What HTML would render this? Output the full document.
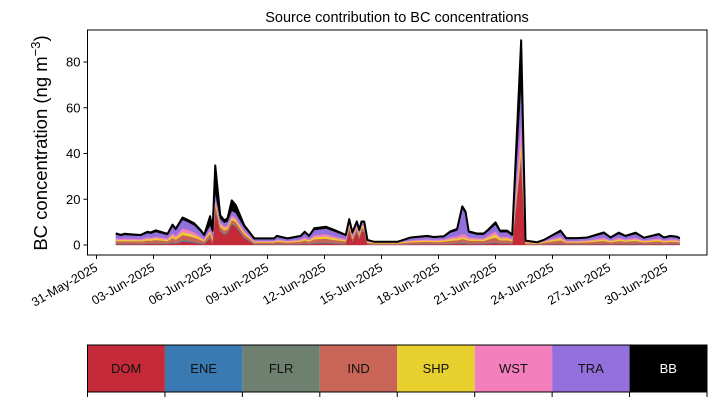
<!DOCTYPE html>
<html><head><meta charset="utf-8">
<style>
body{margin:0;background:#fff;}
svg{display:block;font-family:"Liberation Sans","DejaVu Sans",sans-serif;}
</style></head>
<body>
<svg id="chart" width="717" height="402" viewBox="0 0 717 402" xmlns="http://www.w3.org/2000/svg">
<text x="397" y="22" text-anchor="middle" font-size="14.5">Source contribution to BC concentrations</text>
<text transform="translate(47,143) rotate(-90)" text-anchor="middle" font-size="18.5">BC concentration (ng m<tspan dy="-7" font-size="13">−3</tspan><tspan dy="7">)</tspan></text>
<g id="plot"></g>
<g id="axes"></g>
<g id="legend"></g>
</svg>
<script>
const days = [1.02,1.28,1.46,2.33,2.68,2.86,3.12,3.74,4.0,4.17,4.53,4.79,5.14,5.49,5.67,5.98,6.11,6.25,6.51,6.72,6.89,7.12,7.33,7.77,8.3,9.35,9.49,10.05,10.75,10.96,11.19,11.46,12.07,12.51,13.12,13.3,13.47,13.7,13.83,13.95,14.09,14.26,14.62,15.84,16.54,17.4,17.75,18.28,18.63,18.98,19.25,19.42,19.59,20.04,20.38,20.65,21.0,21.23,21.62,21.88,22.35,22.58,23.19,23.54,24.42,24.72,25.3,25.83,26.7,27.05,27.49,27.84,28.37,28.81,29.6,29.86,30.21,30.56,30.7];
const DOM = [.4,.3,.4,.3,.5,.5,.5,.4,.8,.6,1.5,1.3,1.0,.5,.3,3.0,.5,15,6,4.5,5,9,8,3,.2,.2,.3,.2,.3,.5,.3,.6,.7,.5,.3,6.5,1.5,5.8,2.5,5.8,5.8,.2,.1,.1,.2,.3,.3,.3,.4,.5,.5,.5,.4,.4,.4,.6,.8,.5,.5,.4,37,.1,.1,.2,.4,.2,.2,.2,.4,.2,.4,.3,.4,.2,.4,.2,.3,.3,.2];
const ENE = [.1,.1,.1,.1,.1,.1,.1,.1,.2,.1,.3,.3,.2,.1,.1,.2,.1,.3,.2,.2,.2,.2,.2,.2,.1,.1,.1,.1,.1,.1,.1,.1,.2,.1,.1,.1,.1,.1,.1,.1,.1,.05,.05,.05,.1,.1,.1,.1,.1,.1,.3,.2,.1,.1,.1,.1,.2,.1,.1,.1,1,.05,.05,.05,.1,.1,.1,.1,.1,.1,.1,.1,.1,.1,.1,.1,.1,.1,.1];
const FLR = [.2,.2,.2,.2,.2,.2,.3,.2,.3,.3,.4,.4,.3,.3,.2,.3,.3,.5,.3,.3,.3,.3,.3,.3,.1,.1,.2,.1,.2,.2,.2,.3,.3,.3,.2,.2,.2,.2,.2,.2,.2,.1,.05,.05,.1,.2,.1,.2,.2,.2,.3,.3,.2,.2,.2,.3,.3,.2,.2,.2,1,.05,.05,.1,.2,.1,.1,.1,.2,.1,.2,.2,.2,.1,.2,.1,.2,.1,.1];
const IND = [1.1,1.0,1.0,1.0,1.2,1.1,1.3,1.0,1.8,1.4,2.2,2.0,1.8,1.3,1.0,1.5,1.3,2,1.5,1.4,1.4,1.5,1.5,1.2,.7,.7,.9,.7,.9,1.2,.9,1.5,1.6,1.3,1.0,1.3,1.0,1.2,1.1,1.2,1.2,.7,.5,.5,.8,.9,.8,.9,1.2,1.3,1.5,1.4,1.2,1.1,1.1,1.5,2,1.3,1.3,1.0,2,.6,.4,.7,1.4,.7,.7,.8,1.1,.8,1.1,.9,1.1,.8,1.0,.8,.9,.9,.7];
const SHP = [.6,.5,.6,.5,.7,.7,.8,.6,1.0,.8,1.3,1.2,1.0,.8,.5,1.0,.8,1.5,1,.9,.9,1,1,.8,.4,.4,.5,.4,.5,.7,.5,.9,1.0,.8,.5,.8,.6,.8,.7,.8,.8,.4,.3,.3,.5,.5,.5,.5,.7,.8,.8,.8,.7,.6,.6,.9,1.4,.8,.8,.6,4,.4,.3,.4,.8,.4,.4,.5,.7,.5,.7,.5,.7,.5,.6,.5,.5,.5,.4];
const WST = [.6,.5,.6,.5,.7,.6,.7,.6,1.2,.9,1.6,1.5,1.3,.7,.5,1.0,.7,1.5,1,.9,.9,1,1,.8,.4,.4,.5,.4,.5,.7,.5,.9,1.0,.8,.5,.7,.5,.7,.6,.7,.7,.3,.2,.2,.4,.5,.5,.5,.8,.9,1.5,1.4,.8,.6,.6,.9,1.3,.8,.8,.5,10,.3,.15,.3,.8,.4,.4,.4,.7,.4,.7,.5,.7,.4,.6,.4,.5,.5,.4];
const TRA = [1.6,1.4,1.5,1.4,1.8,1.7,2.0,1.5,2.8,2.3,3.7,3.4,3.0,2.0,1.4,1.6,2.0,2,1.5,1.5,1.5,2,2,1.5,.7,.7,1.1,.7,1.1,1.8,1.1,2.2,2.4,2.1,1.4,1.2,1.1,1.1,1.0,1.1,1.1,.3,.1,.1,.9,1.1,.9,1.0,2.0,2.5,11,9.2,2.0,1.5,1.5,2,2.9,1.9,1.9,1.2,15,.3,.1,.3,1.9,.8,.8,.9,1.7,.9,1.6,1.1,1.6,.8,1.4,.9,1.1,.9,.8];
const BB = [.5,.4,.5,.4,.6,.6,.7,.5,.8,.7,1.0,.9,.9,.7,.4,4.0,.7,12,1.5,1.1,1.3,4.5,3.5,.9,.3,.3,.4,.3,.4,.6,.4,.8,.8,.7,.4,.5,.5,.4,.4,.4,.4,.15,.1,.1,.3,.4,.3,.3,.6,.7,1.0,.9,.6,.5,.5,.7,1.0,.7,.7,.5,19.5,.1,.05,.15,.7,.3,.3,.3,.6,.3,.6,.4,.6,.3,.5,.3,.4,.3,.3];
const seriesNames = ["DOM","ENE","FLR","IND","SHP","WST","TRA","BB"];
const seriesData = [DOM,ENE,FLR,IND,SHP,WST,TRA,BB];
const seriesColors = ["#c52a38","#3a7ab3","#6e8070","#c96557","#e8d02e","#f380bd","#9370db","#000000"];
const yTicks = [0,20,40,60,80];
const xTickDays = [0,3,6,9,12,15,18,21,24,27,30];
const xTickLabels = ["31-May-2025","03-Jun-2025","06-Jun-2025","09-Jun-2025","12-Jun-2025","15-Jun-2025","18-Jun-2025","21-Jun-2025","24-Jun-2025","27-Jun-2025","30-Jun-2025"];

const NS="http://www.w3.org/2000/svg";
const L=87.5,R=707,T=30,B=255;
const xs=d=>96.5+d*19;
const ys=v=>245-v*2.2875;
function mk(tag,attrs,parent){const e=document.createElementNS(NS,tag);for(const k in attrs)e.setAttribute(k,attrs[k]);parent.appendChild(e);return e;}
const plot=document.getElementById('plot'),axes=document.getElementById('axes'),leg=document.getElementById('legend');

let base=days.map(()=>0);
seriesData.forEach((s,i)=>{
  const top=base.map((b,j)=>b+s[j]);
  let d="M"+days.map((t,j)=>xs(t).toFixed(2)+","+ys(top[j]).toFixed(2)).join("L");
  for(let j=days.length-1;j>=0;j--) d+="L"+xs(days[j]).toFixed(2)+","+ys(base[j]).toFixed(2);
  const p=mk('path',{d:d+"Z",fill:seriesColors[i],stroke:seriesColors[i],'stroke-width':0.4},plot);
  
  
  base=top;
});
const tl=mk('polyline',{points:days.map((t,j)=>xs(t).toFixed(2)+","+ys(base[j]).toFixed(2)).join(" "),fill:"none",stroke:"#000","stroke-width":2,"stroke-linejoin":"round"},plot);



const fr=mk('rect',{x:L,y:T,width:R-L,height:B-T,fill:"none",stroke:"#000","stroke-width":1},axes);


yTicks.forEach(v=>{
  const y=ys(v);
  mk('line',{x1:L-4,x2:L,y1:y,y2:y,stroke:"#000"},axes);
  const t=mk('text',{x:L-7,y:y+4.5,'text-anchor':'end','font-size':13},axes);
  t.textContent=v;
  
  
});
xTickDays.forEach((d,i)=>{
  const x=xs(d);
  mk('line',{x1:x,x2:x,y1:B,y2:B+4,stroke:"#000"},axes);
  const t=mk('text',{x:x+2,y:B+15,'text-anchor':'end','font-size':12.5,transform:`rotate(-30 ${x+2} ${B+15})`},axes);
  t.textContent=xTickLabels[i];
  
  
});

const cw=(R-L)/8;
seriesNames.forEach((n,i)=>{
  const x=L+i*cw;
  const r=mk('rect',{x:x,y:345,width:cw,height:47,fill:seriesColors[i]},leg);
  
  
  const t=mk('text',{x:x+cw/2,y:373,'text-anchor':'middle','font-size':13,fill:i==7?"#fff":"#111"},leg);
  t.textContent=n;
  
  
});
mk('rect',{x:L,y:345,width:R-L,height:47,fill:"none",stroke:"#000","stroke-width":1},leg);
for(let i=0;i<=8;i++){const x=L+i*cw;mk('line',{x1:x,x2:x,y1:392,y2:397,stroke:"#000"},leg);}
</script>
</body></html>
